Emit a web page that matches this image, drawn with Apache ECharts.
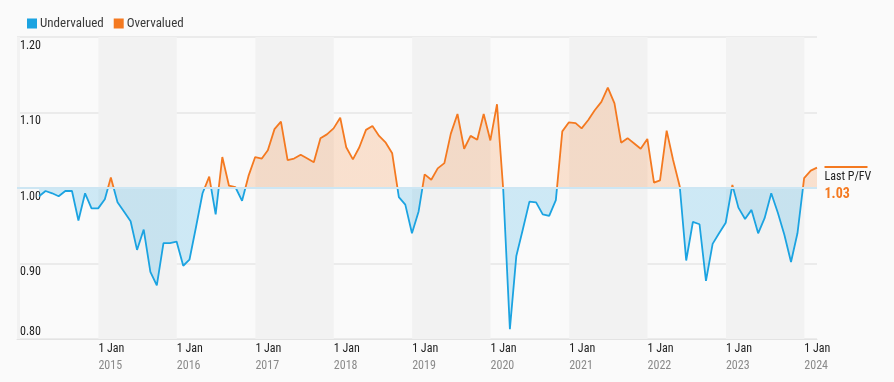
<!DOCTYPE html>
<html><head><meta charset="utf-8">
<script src="https://cdn.jsdelivr.net/npm/echarts@6/dist/echarts.min.js"></script>
<style>html,body{margin:0;padding:0;background:#fafafa}#c{width:894px;height:382px}</style>
</head><body><div id="c"></div>
<script>
// Monthly (month-end) price / fair value observations, starting March 2014
const startYear = 2014, startMonthIndex = 2; // March
const pfv = [
  0.989,0.996,0.993,0.989,0.996,0.996,0.957,0.993,0.973,0.973,
  0.985,1.014,0.981,0.969,0.956,0.918,0.945,0.889,0.871,0.927,
  0.927,0.929,0.897,0.905,0.949,0.993,1.015,0.965,1.041,1.003,
  1.001,0.983,1.016,1.041,1.039,1.050,1.078,1.088,1.037,1.039,
  1.044,1.039,1.034,1.066,1.071,1.079,1.093,1.054,1.038,1.054,
  1.077,1.082,1.069,1.060,1.046,0.988,0.978,0.940,0.969,1.018,
  1.011,1.026,1.033,1.072,1.098,1.052,1.069,1.064,1.098,1.063,
  1.111,0.998,0.813,0.910,0.946,0.982,0.981,0.965,0.963,0.984,
  1.075,1.087,1.086,1.079,1.090,1.103,1.114,1.133,1.112,1.060,
  1.066,1.059,1.052,1.065,1.007,1.010,1.076,1.037,1.002,0.904,
  0.955,0.952,0.877,0.926,0.940,0.954,1.004,0.974,0.959,0.971,
  0.940,0.960,0.993,0.967,0.938,0.902,0.940,1.013,1.023,1.027
];
const yMin = 0.8, yMax = 1.2, yStep = 0.1;
const fairValue = 1.0;
const legendNames = ['Undervalued', 'Overvalued'];
const lastLabel = 'Last P/FV';
const tickDayLabel = '1 Jan';
const firstLabelYear = 2015;

const BLUE = '#1ba3e1', ORANGE = '#f47920';
const FONT = "'Roboto Condensed','Liberation Sans Narrow','Arial Narrow','DejaVu Sans Condensed',Roboto,sans-serif";

const dates = pfv.map((_, i) => new Date(startYear, startMonthIndex + i + 1, 0).getTime());
const seriesData = pfv.map((v, i) => [dates[i], v]);
const lastDate = dates[dates.length - 1];
const lastVal = pfv[pfv.length - 1];

const chart = echarts.init(document.getElementById('c'), null, {renderer: 'canvas'});
chart.setOption({
  backgroundColor: '#fafafa',
  animation: false,
  textStyle: {fontFamily: FONT},
  grid: {left: 17, right: 77, top: 37, bottom: 43},
  visualMap: {
    type: 'piecewise', show: true, dimension: 1, seriesIndex: 0,
    orient: 'horizontal', left: 12, top: 2, align: 'left',
    itemWidth: 10, itemHeight: 10, itemGap: 10, itemSymbol: 'rect', textGap: 3,
    selectedMode: false,
    textStyle: {color: '#3a3a3a', fontSize: 13, fontFamily: FONT},
    pieces: [
      {gte: yMin - 0.4, lt: fairValue, color: BLUE, label: legendNames[0]},
      {gte: fairValue, lte: yMax + 0.4, color: ORANGE, label: legendNames[1]}
    ]
  },
  xAxis: {
    type: 'time',
    min: new Date(2013, 11, 18).getTime(),
    max: lastDate,
    minInterval: 365 * 864e5,
    maxInterval: 366 * 864e5,
    axisLine: {show: true, lineStyle: {color: '#e3e3e3', width: 1}},
    axisTick: {show: false},
    splitLine: {show: false},
    splitArea: {show: true, areaStyle: {color: ['#f2f2f2', 'rgba(0,0,0,0)']}},
    axisLabel: {
      show: true, align: 'left', margin: 2, hideOverlap: false,
      showMinLabel: true, showMaxLabel: true,
      formatter: function (val) {
        const d = new Date(val);
        if (d.getMonth() !== 0 || d.getDate() !== 1 || d.getFullYear() < firstLabelYear) return '';
        return '{a|' + tickDayLabel + '}\n{b|' + d.getFullYear() + '}';
      },
      rich: {
        a: {fontSize: 12, color: '#222', lineHeight: 16, fontFamily: FONT},
        b: {fontSize: 12, color: '#8a8a8a', lineHeight: 17, fontFamily: FONT}
      }
    }
  },
  yAxis: {
    type: 'value', min: yMin, max: yMax, interval: yStep,
    axisLine: {show: false}, axisTick: {show: false},
    splitLine: {show: true, lineStyle: {color: '#e6e6e6', width: 1.5}},
    axisLabel: {
      inside: true, margin: 3, align: 'left',
      formatter: function (v) {
        const s = v.toFixed(2);
        return Math.abs(v - yMin) < 1e-9 ? '{b|' + s + '}' : '{a|' + s + '}';
      },
      rich: {
        a: {fontSize: 12, color: '#222', padding: [17, 0, 0, 0], fontFamily: FONT},
        b: {fontSize: 12, color: '#222', padding: [0, 0, 15, 0], fontFamily: FONT}
      }
    }
  },
  series: [{
    type: 'line',
    data: seriesData,
    showSymbol: false,
    symbol: 'none',
    lineStyle: {width: 1.8},
    areaStyle: {origin: fairValue, opacity: 0.2},
    markLine: {
      silent: true, symbol: 'none',
      label: {show: false},
      lineStyle: {color: '#cde6f3', width: 2, type: 'solid'},
      data: [{yAxis: fairValue}]
    },
    markPoint: {
      silent: true,
      symbol: 'rect', symbolSize: 1,
      itemStyle: {color: 'rgba(0,0,0,0)'},
      data: [{coord: [lastDate, lastVal], value: lastVal}],
      label: {
        show: true, position: [8, -1], align: 'left', verticalAlign: 'top',
        formatter: function () {
          return '{bar|}\n{t|' + lastLabel + '}\n{v|' + lastVal.toFixed(2) + '}';
        },
        rich: {
          bar: {width: 43, height: 2, lineHeight: 2, backgroundColor: ORANGE},
          t: {fontSize: 12, color: '#222', lineHeight: 17, fontFamily: FONT},
          v: {fontSize: 14, fontWeight: 'bold', color: ORANGE, lineHeight: 18, fontFamily: FONT}
        }
      }
    }
  }]
});
</script>
</body></html>
